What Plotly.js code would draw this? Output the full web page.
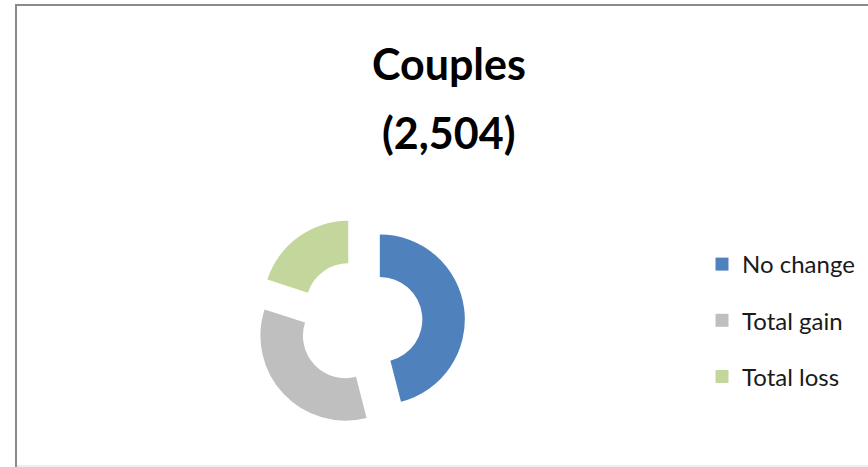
<!DOCTYPE html>
<html>
<head>
<meta charset="utf-8">
<script src="https://cdn.plot.ly/plotly-3.0.1.min.js"></script>
<style>html,body{margin:0;padding:0;background:#fff;}#chart{width:868px;height:467px;}</style>
</head>
<body>
<div id="chart"></div>
<script>
var titleLine1 = "Couples";
var titleLine2 = "(2,504)";
var categories = ["No change", "Total gain", "Total loss"];
var shares = [46, 34, 20];
var colors = ["#4F81BD", "#BFBFBF", "#C3D69B"];

var traces = [{
  type: "pie",
  labels: categories,
  values: shares,
  marker: {colors: colors, line: {width: 0}},
  hole: 0.5,
  pull: [0.235, 0.235, 0.235],
  sort: false,
  direction: "clockwise",
  rotation: 0,
  textinfo: "none",
  hoverinfo: "label+percent",
  showlegend: false,
  domain: {x: [0.2938, 0.5357], y: [0.0857, 0.5353]}
}];

categories.forEach(function (c, i) {
  traces.push({
    type: "scatter",
    mode: "markers",
    x: [null], y: [null],
    name: c,
    legendgroup: "g" + i,
    marker: {symbol: "square", size: 13, color: colors[i]},
    hoverinfo: "skip",
    showlegend: true
  });
});

var layout = {
  width: 868, height: 467,
  margin: {l: 0, r: 0, t: 0, b: 0},
  paper_bgcolor: "#ffffff",
  plot_bgcolor: "rgba(0,0,0,0)",
  xaxis: {visible: false, showgrid: false, zeroline: false},
  yaxis: {visible: false, showgrid: false, zeroline: false},
  showlegend: true,
  legend: {
    x: 702 / 868, xanchor: "left",
    y: 1 - 242 / 467, yanchor: "top",
    font: {family: "Lato, sans-serif", size: 24, color: "#1a1a1a"},
    tracegroupgap: 22,
    traceorder: "grouped",
    bgcolor: "rgba(0,0,0,0)"
  },
  annotations: [
    {text: "<b>" + titleLine1 + "</b>", xref: "paper", yref: "paper",
     x: 449 / 868, y: 1 - 63 / 467, xanchor: "center", yanchor: "middle",
     showarrow: false, font: {family: "Lato, sans-serif", size: 43, color: "#000"}},
    {text: "<b>" + titleLine2 + "</b>", xref: "paper", yref: "paper",
     x: 448 / 868, y: 1 - 132 / 467, xanchor: "center", yanchor: "middle",
     showarrow: false, font: {family: "Lato, sans-serif", size: 43, color: "#000"}}
  ],
  shapes: [
    {type: "line", xref: "paper", yref: "paper", x0: 16 / 868, x1: 1, y0: 1 - 5 / 467, y1: 1 - 5 / 467,
     line: {color: "#8a8a8a", width: 2}},
    {type: "line", xref: "paper", yref: "paper", x0: 16 / 868, x1: 16 / 868, y0: 0, y1: 1 - 4 / 467,
     line: {color: "#8a8a8a", width: 2}},
    {type: "line", xref: "paper", yref: "paper", x0: 17 / 868, x1: 1, y0: 1 / 467, y1: 1 / 467,
     line: {color: "#dcdcdc", width: 1}}
  ]
};

Plotly.newPlot("chart", traces, layout, {displayModeBar: false, staticPlot: true});
</script>
</body>
</html>
